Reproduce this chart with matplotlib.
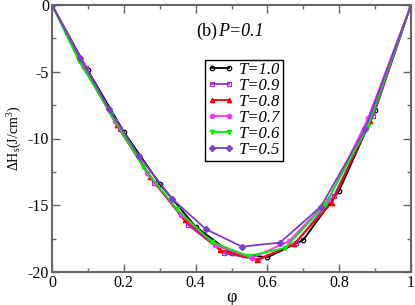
import numpy as np
import matplotlib
matplotlib.use('Agg')
import matplotlib.pyplot as plt
from matplotlib.ticker import MultipleLocator

plt.rcParams['font.family'] = ['Liberation Serif', 'DejaVu Serif']
plt.rcParams['mathtext.fontset'] = 'custom'
plt.rcParams['mathtext.rm'] = 'Liberation Serif'
plt.rcParams['mathtext.it'] = 'Liberation Serif:italic'
plt.rcParams['axes.unicode_minus'] = False

labels = ['T=1.0', 'T=0.9', 'T=0.8', 'T=0.7', 'T=0.6', 'T=0.5']

phi_10 = [0, 0.1, 0.2, 0.3, 0.4, 0.5, 0.6, 0.7, 0.8, 0.9, 1.0]
dh_10 = [0, -4.9, -9.5, -13.4, -16.6, -18.6, -18.9, -17.6, -13.9, -7.9, 0]

phi_09 = [0, 0.095, 0.19, 0.285, 0.38, 0.48, 0.575, 0.68, 0.785, 0.895, 1.0]
dh_09 = [0, -4.7, -9.3, -13.3, -16.5, -18.6, -19.1, -17.8, -14.3, -8.3, 0]

phi_08 = [0, 0.088, 0.18, 0.273, 0.37, 0.468, 0.57, 0.674, 0.78, 0.885, 1.0]
dh_08 = [0, -4.6, -9.0, -12.9, -16.1, -18.35, -19.1, -17.9, -14.8, -8.7, 0]

phi_07 = [0, 0.087, 0.175, 0.265, 0.36, 0.455, 0.557, 0.66, 0.77, 0.88, 1.0]
dh_07 = [0, -4.5, -8.7, -12.6, -15.7, -18.0, -18.95, -17.7, -14.6, -8.5, 0]

phi_06 = [0, 0.075, 0.165, 0.253, 0.348, 0.445, 0.546, 0.649, 0.76, 0.88, 1.0]
dh_06 = [0, -4.2, -8.2, -12.1, -15.3, -17.75, -18.8, -18.2, -15.0, -9.1, 0]

phi_05 = [0, 0.078, 0.159, 0.242, 0.334, 0.429, 0.529, 0.635, 0.749, 0.872, 1.0]
dh_05 = [0, -3.97, -7.8, -11.3, -14.5, -16.8, -18.1, -17.8, -15.1, -9.3, 0]

phis = [phi_10, phi_09, phi_08, phi_07, phi_06, phi_05]
dhs = [dh_10, dh_09, dh_08, dh_07, dh_06, dh_05]
colors = ['black', '#9b30d0', 'red', '#ff33ff', '#00ee00', '#7a3fc8']
markers = ['o', 's', '^', 'o', 'v', 'D']
fills = ['none', 'none', 'red', '#ff33ff', '#00ee00', '#7a3fc8']

fig = plt.figure(figsize=(4.15, 3.05), dpi=100)
ax = fig.add_axes([52/415, 1 - 272/305, 359/415, 267/305])

for x, y, c, m, f, lab in zip(phis, dhs, colors, markers, fills, labels):
    ax.plot(x, y, color=c, marker=m, markersize=3.2, markerfacecolor=f,
            markeredgecolor=c, markeredgewidth=0.9, linewidth=1.3,
            label=lab)

ax.set_xlim(0, 1)
ax.set_ylim(-20, 0)
ax.xaxis.set_major_locator(MultipleLocator(0.2))
ax.xaxis.set_minor_locator(MultipleLocator(0.1))
ax.yaxis.set_major_locator(MultipleLocator(5))
ax.yaxis.set_minor_locator(MultipleLocator(2.5))
ax.set_xticks([0, 0.2, 0.4, 0.6, 0.8, 1.0])
ax.set_xticklabels(['0', '0.2', '0.4', '0.6', '0.8', '1'])
ax.tick_params(which='both', direction='in', top=True, right=True,
               color='#666666', labelsize=11.5, pad=2)
ax.tick_params(which='major', length=6, width=1)
ax.tick_params(which='minor', length=3, width=1)
for s in ax.spines.values():
    s.set_color('#666666')
    s.set_linewidth(1.5)

ax.set_xlabel('φ', fontsize=13, labelpad=-1)
ax.set_ylabel(r'$\Delta$H$_{\rm s}$(J/cm$^{3}$)', fontsize=10, labelpad=3)

ax.text(0.403, 0.885, '(b)', transform=ax.transAxes, fontsize=13)
ax.text(0.462, 0.885, 'P=0.1', transform=ax.transAxes, fontsize=13,
        style='italic')

leg = ax.legend(loc='upper left', bbox_to_anchor=(0.425, 0.795), numpoints=2,
                prop={'size': 12, 'style': 'italic'}, handlelength=1.6,
                handletextpad=0.3, labelspacing=0.0, borderpad=0.15,
                fancybox=False, framealpha=1, borderaxespad=0)
leg.get_frame().set_edgecolor('black')
leg.get_frame().set_linewidth(1)

fig.savefig('out.png', dpi=100)
